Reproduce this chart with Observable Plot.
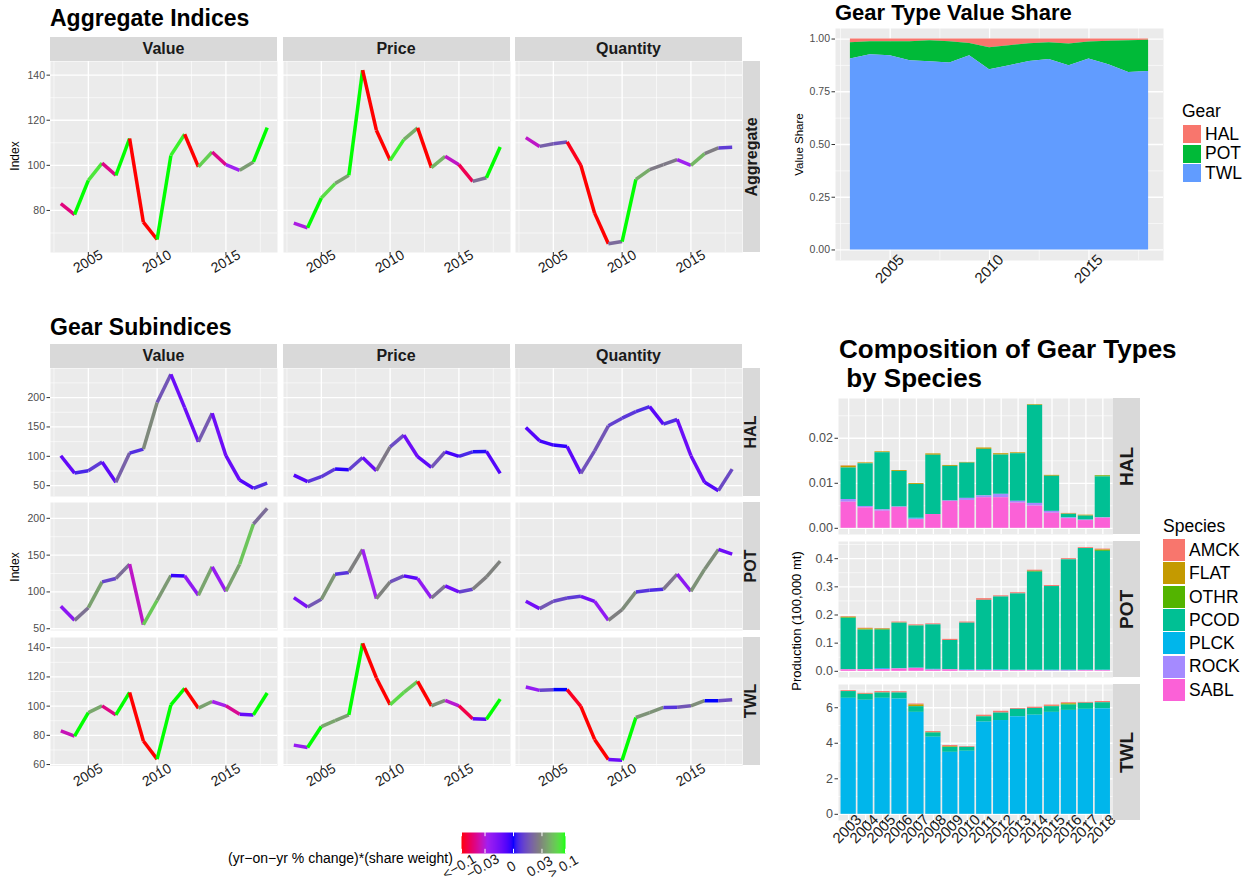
<!DOCTYPE html>
<html>
<head>
<meta charset="utf-8">
<script src="https://cdn.jsdelivr.net/npm/d3@7"></script>
<script src="https://cdn.jsdelivr.net/npm/@observablehq/plot@0.6"></script>
<style>
html,body{margin:0;padding:0;background:#fff;}
#root{position:relative;width:1252px;height:888px;overflow:hidden;font-family:"Liberation Sans",Arial,Helvetica,sans-serif;color:#000;}
#root div{position:absolute;}
.ttl{font-weight:bold;line-height:1;white-space:pre;color:#000;}
.strip{background:#D9D9D9;color:#1A1A1A;font-weight:bold;overflow:hidden;display:flex;align-items:center;justify-content:center;}
.strip span{white-space:nowrap;line-height:1;flex:none;}
</style>
</head>
<body>
<div id="root"></div>
<script>
// ---------------- DATA ----------------
const years = [2003,2004,2005,2006,2007,2008,2009,2010,2011,2012,2013,2014,2015,2016,2017,2018];
const measures = ["Value","Price","Quantity"];
const gears = ["HAL","POT","TWL"];
const species = ["AMCK","FLAT","OTHR","PCOD","PLCK","ROCK","SABL"];

// Aggregate indices
const aggValue    = [83.0,78.2,93.3,101.0,95.6,111.9,74.8,67.1,104.4,113.8,99.3,105.9,100.3,97.8,101.5,116.7];
const aggPrice    = [74.4,72.3,85.5,91.9,95.6,142.2,115.6,102.2,111.4,116.6,99.0,104.0,100.3,92.9,94.5,108.1];
const aggQuantity = [112.3,108.4,109.6,110.4,100.0,78.8,65.2,66.2,93.8,98.1,100.3,102.5,100.0,105.2,107.7,108.0];

// Gear subindices
const halValue    = [101,71.5,75.5,90.2,55.7,105.5,112.3,191.5,239.6,183,124.7,173.4,101,59.6,45.5,54.5];
const halPrice    = [68.1,56.8,65.3,78.3,77.2,98.1,75.5,116.2,136.0,99.3,81.1,107.7,99.8,107.7,108.3,71.0];
const halQuantity = [149.1,126.4,119.1,116.8,71.0,109.4,151.9,164.9,176.2,184.7,154.7,162.7,101,55.7,41.5,78.3];
const potValue    = [80.5,61.4,78.6,113.6,118.2,137.7,55.5,88.6,122.3,121.8,95.5,134.1,100.9,137.7,192.3,213.6];
const potPrice    = [92.3,79.5,90.0,124.1,126.4,157.7,90.9,113.6,121.8,118.2,91.8,108.2,100.0,103.6,120.5,141.8];
const potQuantity = [87.3,77.3,87.3,91.8,94.1,87.3,61.4,75.9,100.0,102.3,103.6,124.1,100.9,130.9,157.7,151.4];
const twlValue    = [83.0,79.5,95.6,100.2,94.0,109.4,76.1,63.7,100.9,112.2,98.6,103.2,100.2,94.5,94.0,109.0];
const twlPrice    = [73.3,71.7,86.0,90.1,94.0,143.0,119.3,100.9,109.4,117.0,100.2,103.9,100.2,91.3,91.0,104.8];
const twlQuantity = [113.1,110.8,111.3,111.3,99.8,77.2,63.4,63.0,92.2,95.6,99.1,99.3,100.2,103.7,103.7,104.4];

// Gear type value share
const shareHAL = [0.017,0.013,0.013,0.013,0.008,0.013,0.021,0.041,0.032,0.022,0.017,0.024,0.014,0.011,0.008,0.006];
const sharePOT = [0.078,0.062,0.066,0.090,0.100,0.100,0.058,0.105,0.095,0.084,0.080,0.103,0.081,0.111,0.151,0.148];
const shareTWL = [0.905,0.925,0.921,0.897,0.892,0.887,0.921,0.854,0.873,0.894,0.903,0.873,0.905,0.878,0.841,0.846];

// Composition of gear types by species (100,000 mt)
const halAMCK = [0.0001,0,0,0,0,0,0,0,0,0,0,0,0,0.0001,0,0];
const halFLAT = [0.0004,0.0002,0.0002,0.0002,0.0002,0.0003,0.0002,0.00015,0.0003,0.0003,0.0002,0.00015,0.0002,0.0001,0.0002,0.0001];
const halOTHR = [0,0,0,0,0,0,0,0,0,0,0,0,0,0,0,0.0002];
const halPCOD = [0.0070,0.00948,0.01269,0.0079,0.0075,0.01317,0.00769,0.00783,0.01034,0.00872,0.01057,0.02178,0.0078,0.00075,0.0009,0.00908];
const halPLCK = [0,0,0,0,0.0002,0,0,0,0,0,0,0,0,0.0001,0,0];
const halROCK = [0.0006,0.0003,0.0003,0.0001,0.0001,0,0.0001,0.00045,0.0004,0.00075,0.0004,0.0006,0.0004,0.0001,0.0001,0.0001];
const halSABL = [0.0058,0.00455,0.0038,0.00463,0.00194,0.00306,0.00597,0.0062,0.0068,0.0068,0.0056,0.00493,0.00336,0.00216,0.00172,0.00224];

const potAMCK = [0.002,0.002,0.002,0.003,0.003,0.0035,0.004,0.004,0.006,0.004,0.004,0.004,0.0035,0.004,0.003,0.003];
const potFLAT = [0.002,0.003,0.001,0.001,0.001,0,0,0,0,0,0,0,0,0,0,0.002];
const potOTHR = [0.002,0.002,0.003,0,0,0,0,0,0,0,0,0.003,0,0,0,0.003];
const potPCOD = [0.182,0.140,0.136,0.162,0.150,0.158,0.1035,0.166,0.247,0.259,0.271,0.348,0.297,0.392,0.432,0.422];
const potPLCK = [0,0,0.003,0,0,0.002,0,0.002,0.002,0.002,0.001,0.001,0.002,0.002,0.001,0.001];
const potROCK = [0.001,0.001,0.001,0.001,0.001,0.001,0.001,0.001,0.001,0.001,0.001,0.001,0.001,0.001,0.001,0.001];
const potSABL = [0.005,0.005,0.006,0.008,0.010,0.004,0.005,0.002,0.002,0.002,0.002,0.002,0.001,0.001,0.002,0.002];

const twlAMCK = [0.05,0.05,0.07,0.07,0.05,0.05,0.06,0.04,0.07,0.10,0.05,0.07,0.07,0.05,0.05,0.07];
const twlFLAT = [0,0.01,0.01,0,0.10,0.03,0.04,0,0.02,0,0,0,0.02,0.04,0,0];
const twlOTHR = [0,0,0,0,0,0,0,0,0,0,0,0,0,0.04,0,0];
const twlPCOD = [0.38,0.33,0.30,0.34,0.32,0.24,0.28,0.22,0.30,0.42,0.42,0.38,0.32,0.30,0.34,0.34];
const twlPLCK = [6.53,6.42,6.53,6.49,5.74,4.34,3.49,3.55,5.19,5.28,5.49,5.58,5.74,5.85,5.91,5.94];
const twlROCK = [0,0,0,0,0,0,0,0,0,0,0,0,0,0,0,0];
const twlSABL = [0,0,0,0,0,0,0,0,0,0,0,0,0,0,0,0];

// Tick labels / legend
const xTickYears = [2005, 2010, 2015];
const legendBreaks = [-0.1, -0.03, 0, 0.03, 0.1];
const legendLabels = ["<\u22120.1", "\u22120.03", "0", "0.03", "> 0.1"];

// ---------------- STYLE ----------------
const FONT = '"Liberation Sans", Arial, Helvetica, sans-serif';
const STYLE = {background:"transparent", fontFamily:FONT, overflow:"visible", maxWidth:"none"};
const gearColors = ["#F8766D","#00BA38","#619CFF"];
const speciesColors = ["#F8766D","#C49A00","#53B400","#00C094","#00B6EB","#A58AFF","#FB61D7"];
const changeColor = {type:"sqrt", domain:[-0.1,-0.025,0,0.025,0.1],
  range:["#FF0000","#A020F0","#0000FF","#7F7F7F","#00FF00"], interpolate:"lab", clamp:true};
const X_DOM = [2002.25, 2018.75];
const X_MINOR = [2002.5, 2007.5, 2012.5, 2017.5];

const root = document.getElementById("root");
function box(css, html, cls) {
  const d = document.createElement("div");
  if (cls) d.className = cls;
  if (html !== undefined) d.innerHTML = html;
  for (const [k, v] of Object.entries(css)) d.style[k] = typeof v === "number" ? v + "px" : v;
  root.appendChild(d);
  return d;
}
function place(svg, left, top) { const d = box({left, top}); d.appendChild(svg); }
function title(text, left, baseline, size) { box({left, top: baseline - 0.847 * size, fontSize: size}, text, "ttl"); }
function strip(text, left, top, w, h, size, vertical) {
  const d = box({left, top, width: w, height: h, fontSize: size}, "", "strip");
  const s = document.createElement("span"); s.textContent = text;
  if (vertical) s.style.transform = "rotate(-90deg)";
  d.appendChild(s);
}
function vlabel(text, cx, cy, size) {
  box({left: cx - 200, top: cy - size, width: 400, height: 2 * size, lineHeight: (2 * size) + "px", fontSize: size,
    textAlign: "center", whiteSpace: "nowrap", transform: "rotate(-90deg)", color: "#000"}, text);
}
function minorOf(major, dom) {
  const step = major[1] - major[0], out = [];
  for (let v = major[0] - step / 2; v <= dom[1]; v += step) if (v >= dom[0]) out.push(+v.toFixed(6));
  return out;
}
function expand(vals) { const [a, b] = d3.extent(vals); return [a - 0.05 * (b - a), b + 0.05 * (b - a)]; }
function gridMarks(xMaj, xMin, yMaj, yMin) {
  const m = [Plot.frame({fill:"#EBEBEB", stroke:"none"})];
  if (xMin) m.push(Plot.gridX(xMin, {stroke:"#FFFFFF", strokeOpacity:1, strokeWidth:0.6}));
  m.push(Plot.gridY(yMin, {stroke:"#FFFFFF", strokeOpacity:1, strokeWidth:0.6}));
  m.push(Plot.gridX(xMaj, {stroke:"#FFFFFF", strokeOpacity:1, strokeWidth:1.3}));
  m.push(Plot.gridY(yMaj, {stroke:"#FFFFFF", strokeOpacity:1, strokeWidth:1.3}));
  return m;
}

// ---------------- LINE PANELS ----------------
function linePanel(vals, weights, left, top, w, h, yDom, yMaj, showY, showX) {
  const segs = vals.slice(1).map((v, i) => ({x1: years[i], y1: vals[i], x2: years[i + 1], y2: v,
    c: (v - vals[i]) / vals[i] * weights[i + 1]}));
  const ml = showY ? 40 : 0, mb = showX ? 36 : 0;
  const marks = [...gridMarks(xTickYears, X_MINOR, yMaj, minorOf(yMaj, yDom)),
    Plot.link(segs, {x1:"x1", y1:"y1", x2:"x2", y2:"y2", stroke:"c", strokeWidth:3.5, strokeLinecap:"butt"})];
  if (showY) marks.push(Plot.axisY(yMaj, {tickSize:3.5, tickPadding:2, fontSize:10.5, fill:"#4D4D4D", stroke:"#333333",
    tickFormat: d => String(d), label:null}));
  if (showX) marks.push(
    Plot.axisX(xTickYears, {tickSize:3.5, stroke:"#333333", tickFormat: () => "", label:null}),
    Plot.text(xTickYears, {x: d => d, text: d => String(d), frameAnchor:"bottom", dy:13, dx:2, rotate:-30, fontSize:14, fill:"#1A1A1A"}));
  const svg = Plot.plot({width: w + ml, height: h + mb, marginLeft: ml, marginRight: 0, marginTop: 0, marginBottom: mb,
    style: STYLE, x: {domain: X_DOM, axis: null, label: null}, y: {domain: yDom, axis: null, label: null},
    color: changeColor, marks});
  place(svg, left - ml, top);
}

const COLS = [50, 282.5, 515], PW = 227;

// Aggregate Indices
title("Aggregate Indices", 50, 26, 23);
const aggSeries = [aggValue, aggPrice, aggQuantity];
const ones = years.map(() => 1);
const aggDom = expand([...aggValue, ...aggPrice, ...aggQuantity]);
measures.forEach((m, j) => {
  strip(m, COLS[j], 37, PW, 24, 16, false);
  linePanel(aggSeries[j], ones, COLS[j], 61, PW, 191, aggDom, [80, 100, 120, 140], j === 0, true);
});
strip("Aggregate", 742.5, 61, 17.5, 191, 16, true);
vlabel("Index", 15, 156, 12);

// Gear Subindices
title("Gear Subindices", 50, 335, 23);
measures.forEach((m, j) => strip(m, COLS[j], 343.5, PW, 24.5, 16, false));
const subRows = [
  {gear:"HAL", top:368, h:128, series:[halValue, halPrice, halQuantity], w: shareHAL, maj:[50,100,150,200]},
  {gear:"POT", top:502, h:128, series:[potValue, potPrice, potQuantity], w: sharePOT, maj:[50,100,150,200]},
  {gear:"TWL", top:636.5, h:128.5, series:[twlValue, twlPrice, twlQuantity], w: shareTWL, maj:[60,80,100,120,140]}
];
subRows.forEach((r, k) => {
  const dom = expand(r.series.flat());
  r.series.forEach((s, j) => linePanel(s, r.w, COLS[j], r.top, PW, r.h, dom, r.maj, j === 0, k === 2));
  strip(r.gear, 742.5, r.top, 17.5, r.h, 16, true);
});
vlabel("Index", 15, 567, 12);

// ---------------- GEAR TYPE VALUE SHARE ----------------
title("Gear Type Value Share", 835, 21, 22);
{
  const shares = {HAL: shareHAL, POT: sharePOT, TWL: shareTWL};
  const rows = gears.flatMap(g => years.map((y, i) => ({year: y, gear: g, share: shares[g][i]})));
  const ml = 45, mb = 40, w = 328, h = 232;
  const yMaj = [0, 0.25, 0.5, 0.75, 1], yDom = [-0.05, 1.05];
  const svg = Plot.plot({width: w + ml, height: h + mb, marginLeft: ml, marginRight: 0, marginTop: 0, marginBottom: mb,
    style: STYLE, x: {domain: X_DOM, axis: null, label: null}, y: {domain: yDom, axis: null, label: null},
    color: {domain: gears, range: gearColors},
    marks: [...gridMarks(xTickYears, X_MINOR, yMaj, minorOf(yMaj, yDom)),
      Plot.areaY(rows, {x:"year", y:"share", fill:"gear", order:["TWL","POT","HAL"]}),
      Plot.axisY(yMaj, {tickSize:3.5, tickPadding:2, fontSize:10.5, fill:"#4D4D4D", stroke:"#333333", tickFormat: d3.format(".2f"), label:null}),
      Plot.axisX(xTickYears, {tickSize:3.5, stroke:"#333333", tickFormat: () => "", label:null}),
      Plot.text(xTickYears, {x: d => d, text: d => String(d), frameAnchor:"bottom", dy:12, dx:3, rotate:-45, fontSize:15, fill:"#1A1A1A"})
    ]});
  place(svg, 835 - ml, 28);
  vlabel("Value Share", 799, 144, 11.5);
  box({left:1182, top:118 - 0.847 * 17.5, fontSize:17.5, lineHeight:"1"}, "Gear");
  gears.forEach((g, i) => {
    const t = 125 + i * 19.5;
    box({left:1183, top:t, width:18, height:18, background:gearColors[i]});
    box({left:1205, top:t + 9 - 0.5 * 17.5 * 1.15, fontSize:17.5, lineHeight:"1.15"}, g);
  });
}

// ---------------- COMPOSITION BARS ----------------
title("Composition of Gear Types", 839, 358, 26);
title(" by Species", 839, 387, 26);
{
  const comp = {
    HAL: {AMCK: halAMCK, FLAT: halFLAT, OTHR: halOTHR, PCOD: halPCOD, PLCK: halPLCK, ROCK: halROCK, SABL: halSABL},
    POT: {AMCK: potAMCK, FLAT: potFLAT, OTHR: potOTHR, PCOD: potPCOD, PLCK: potPLCK, ROCK: potROCK, SABL: potSABL},
    TWL: {AMCK: twlAMCK, FLAT: twlFLAT, OTHR: twlOTHR, PCOD: twlPCOD, PLCK: twlPLCK, ROCK: twlROCK, SABL: twlSABL}
  };
  const panels = [
    {gear:"HAL", top:398, h:136, maj:[0, 0.01, 0.02], fmt: d3.format(".2f")},
    {gear:"POT", top:541, h:136, maj:[0, 0.1, 0.2, 0.3, 0.4], fmt: d3.format(".1f")},
    {gear:"TWL", top:684, h:136, maj:[0, 2, 4, 6], fmt: d => String(d)}
  ];
  const left = 838, w = 274.5, ml = 40;
  panels.forEach((p, k) => {
    const data = comp[p.gear];
    const rows = species.flatMap(s => years.map((y, i) => ({year: y, species: s, prod: data[s][i]})));
    const totals = years.map((y, i) => d3.sum(species, s => data[s][i]));
    const mx = d3.max(totals), yDom = [-0.05 * mx, 1.05 * mx];
    const showX = k === 2, mb = showX ? 40 : 0;
    const marks = [...gridMarks(years, null, p.maj, minorOf(p.maj, yDom)),
      Plot.barY(rows, {x:"year", y:"prod", fill:"species", order:["SABL","ROCK","PLCK","PCOD","OTHR","FLAT","AMCK"]}),
      Plot.axisY(p.maj, {tickSize:3.5, tickPadding:2, fontSize:12.5, fill:"#4D4D4D", stroke:"#333333", tickFormat: p.fmt, label:null})];
    if (showX) marks.push(
      Plot.axisX(years, {tickSize:3.5, stroke:"#333333", tickFormat: () => "", label:null}),
      Plot.text(years, {x: d => d, text: d => String(d), frameAnchor:"bottom", dy:12, dx:2, rotate:-45, fontSize:15, fill:"#1A1A1A"}));
    const svg = Plot.plot({width: w + ml, height: p.h + mb, marginLeft: ml, marginRight: 0, marginTop: 0, marginBottom: mb,
      style: STYLE,
      x: {type:"band", domain: years, paddingInner:0.1, paddingOuter:0.15, align:0.5, round:false, axis:null, label:null},
      y: {domain: yDom, axis:null, label:null},
      color: {domain: species, range: speciesColors}, marks});
    place(svg, left - ml, p.top);
    strip(p.gear, 1112.5, p.top, 27.5, p.h, 19, true);
  });
  vlabel("Production (100,000 mt)", 797, 621, 13);
  box({left:1163, top:533 - 0.847 * 17.5, fontSize:17.5, lineHeight:"1"}, "Species");
  species.forEach((s, i) => {
    const t = 539 + i * 23.3;
    box({left:1163, top:t, width:22, height:22, background:speciesColors[i]});
    box({left:1189, top:t + 11 - 0.5 * 17.5 * 1.15, fontSize:17.5, lineHeight:"1.15"}, s);
  });
}

// ---------------- COLOUR LEGEND ----------------
{
  const tmax = Math.sqrt(0.1);
  const toT = v => Math.sign(v) * Math.sqrt(Math.abs(v));
  const legT = legendBreaks.map(toT);
  const ml = 30, mr = 30, w = 104, h = 21, mb = 37;
  const svg = Plot.plot({width: w + ml + mr, height: h + mb, marginLeft: ml, marginRight: mr, marginTop: 0, marginBottom: mb,
    style: STYLE, x: {domain: [-tmax, tmax], axis: null, label: null}, y: {domain: [0, 1], axis: null, label: null},
    color: changeColor,
    marks: [
      Plot.raster({x1: -tmax, x2: tmax, y1: 0, y2: 1, width: 208, height: 1, fill: (t) => Math.sign(t) * t * t}),
      Plot.ruleX(legT, {y1: 0, y2: 0.2, stroke: "#FFFFFF", strokeWidth: 1}),
      Plot.ruleX(legT, {y1: 0.8, y2: 1, stroke: "#FFFFFF", strokeWidth: 1}),
      Plot.text(legT, {x: d => d, text: (d, i) => legendLabels[i], frameAnchor: "bottom", dy: 17, rotate: -30, fontSize: 14, fill: "#1A1A1A"})
    ]});
  place(svg, 461 - ml, 832);
  box({left:228, top:863 - 0.847 * 14, fontSize:14, lineHeight:"1", whiteSpace:"nowrap"}, "(yr\u2212on\u2212yr % change)*(share weight)");
}
</script>
</body>
</html>
